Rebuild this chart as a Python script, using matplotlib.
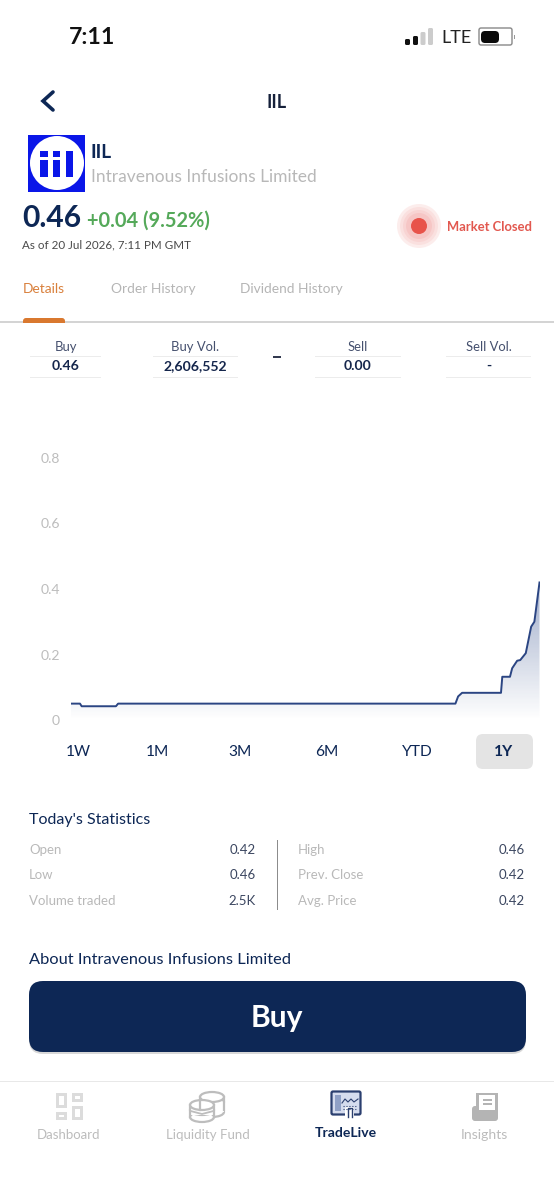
import numpy as np
import matplotlib
matplotlib.use("Agg")
import matplotlib.pyplot as plt
from matplotlib.patches import Rectangle, Circle, FancyBboxPatch, Ellipse
from matplotlib.path import Path

# ---------- data ----------
days = [0, 7, 8.3, 35, 36.7, 299.5, 301.6, 304.7, 335, 336, 342, 343.7, 347.6, 350, 354.3, 358.5, 361, 365]
prices = [0.05, 0.05, 0.042, 0.042, 0.05, 0.05, 0.072, 0.083, 0.083, 0.132, 0.132, 0.158, 0.181, 0.183, 0.204, 0.285, 0.30, 0.42]
y_ticks = [0, 0.2, 0.4, 0.6, 0.8]
y_tick_labels = ["0", "0.2", "0.4", "0.6", "0.8"]
ranges = ["1W", "1M", "3M", "6M", "YTD", "1Y"]
tabs = ["Details", "Order History", "Dividend History"]
book_heads = ["Buy", "Buy Vol.", "Sell", "Sell Vol."]
book_vals = ["0.46", "2,606,552", "0.00", "-"]
stats_left = [("Open", "0.42"), ("Low", "0.46"), ("Volume traded", "2.5K")]
stats_right = [("High", "0.46"), ("Prev. Close", "0.42"), ("Avg. Price", "0.42")]
nav = ["Dashboard", "Liquidity Fund", "TradeLive", "Insights"]

NAVY = "#0d2755"
W, H = 554, 1200
plt.rcParams["font.family"] = ["Lato", "DejaVu Sans"]

fig = plt.figure(figsize=(W / 100, H / 100), dpi=100, facecolor="white")
ui = fig.add_axes([0, 0, 1, 1])
ui.set_xlim(0, W)
ui.set_ylim(H, 0)
ui.axis("off")


def T(x, y, s, px=14, c=NAVY, ha="left", w="normal", va="center"):
    return ui.text(x, y + 1, s, fontsize=px * 0.72, color=c, ha=ha, va=va, fontweight=w)


def R(x0, y0, x1, y1, c, **k):
    ui.add_patch(Rectangle((x0, y0), x1 - x0, y1 - y0, fc=c, ec="none", **k))


def RR(x0, y0, x1, y1, r, c, **k):
    ui.add_patch(FancyBboxPatch((x0 + r, y0 + r), x1 - x0 - 2 * r, y1 - y0 - 2 * r,
                                boxstyle=f"round,pad={r}", fc=c, ec="none", **k))


# ---------- status bar ----------
T(69, 36, "7:11", 23, "#111111", w="bold")
for x0, y0, c in [(405, 39, "#111111"), (413, 36, "#111111"), (420.5, 32, "#cccccc"), (428, 28, "#cccccc")]:
    RR(x0, y0, x0 + 5, 45, 1.5, c)
T(441, 37, "LTE", 18, "#222222")
ui.add_patch(FancyBboxPatch((481, 30), 29, 13, boxstyle="round,pad=2", fc="white", ec="#888888", lw=1))
RR(481, 31, 499, 43, 4, "#0a0a0a")
R(514, 35, 515, 39, "#999999")

# ---------- header ----------
ui.plot([53, 43, 53], [92, 101, 110], color=NAVY, lw=2.6, solid_capstyle="round", solid_joinstyle="miter")
T(277, 101, "IIL", 18, "#15203a", ha="center", w="bold")

# logo
R(28, 135, 85, 192, "#0a16e8")
ui.add_patch(Circle((57, 163), 27, fc="white", ec="none"))
for x0, x1, y0 in [(40, 48, 160), (53, 60, 160), (66, 73, 151)]:
    R(x0, y0, x1, 177, "#0a16e8")
for x0, x1 in [(40, 48), (53, 60)]:
    R(x0, 151, x1, 157, "#0a16e8")

T(91, 151, "IIL", 19, NAVY, w="bold")
T(91, 176, "Intravenous Infusions Limited", 17.4, "#b8b8b8")
T(22, 217, "0.46", 30, NAVY, w="bold")
T(87, 220, "+0.04 (9.52%)", 20, "#55a95a", w="bold")
T(22, 244, "As of 20 Jul 2026, 7:11 PM GMT", 11.6, "#4a4a4a")

for r, a in [(22, .10), (19, .08), (16, .08), (13, .10)]:
    ui.add_patch(Circle((419, 226), r, fc="#e8534a", ec="none", alpha=a))
ui.add_patch(Circle((419, 226), 8, fc="#e8534a", ec="none"))
T(447, 226, "Market Closed", 13, "#e2584f", w="bold")

# ---------- tabs ----------
for x, s, c in zip([23, 111, 240], tabs, ["#d9803c", "#b5b5b5", "#b5b5b5"]):
    T(x, 288, s, 13.8, c)
R(0, 321, W, 323, "#d4d4d4")
RR(23, 318, 65, 326, 3, "#d9782f")
R(0, 323, W, 330, "white")

# ---------- order book ----------
cols = [(30, 101), (153, 238), (315, 401), (446, 531)]
for (x0, x1), h, v in zip(cols, book_heads, book_vals):
    c = (x0 + x1) / 2
    T(c, 346, h, 13, "#45506e", ha="center")
    T(c, 365, v, 14, "#15264c", ha="center", w="bold")
    R(x0, 356, x1, 357, "#ececec")
    R(x0, 377, x1, 378, "#ececec")
R(273, 356, 281, 358, "#333a50")

# ---------- chart ----------
ax = fig.add_axes([71 / W, 1 - 720 / H, (539.5 - 71) / W, (720 - 458) / H])
ax.patch.set_alpha(0)
for s in ax.spines.values():
    s.set_visible(False)
ax.set_xticks([])
ax.set_yticks(y_ticks)
ax.set_yticklabels(y_tick_labels, fontsize=14 * 0.72, color="#bdbdbd")
ax.tick_params(axis="y", length=0, pad=8)

rgba = np.zeros((256, 1, 4))
rgba[..., 0] = 0.10
rgba[..., 1] = 0.22
rgba[..., 2] = 0.50
rgba[:, 0, 3] = np.linspace(0, 0.42, 256)
top = max(prices)
img = ax.imshow(rgba, origin="lower", extent=[days[0], days[-1], 0, top], aspect="auto", interpolation="bilinear", zorder=1)
ax.set_xlim(days[0], days[-1])
ax.set_ylim(0, 0.8)
img.set_clip_path(Path(np.vstack([[days[0], 0], np.column_stack([days, prices]), [days[-1], 0], [days[0], 0]])),
                  transform=ax.transData)
ax.plot(days, prices, color="#2b4583", lw=1.4, solid_joinstyle="round", zorder=2)

# ---------- range selector ----------
RR(476, 734, 533, 769, 7, "#e4e4e4")
for x, s in zip([78, 157, 240, 327, 417, 504], ranges):
    T(x, 751, s, 15.5, NAVY, ha="center", w="bold" if s == "1Y" else "normal")

# ---------- statistics ----------
T(29, 819, "Today's Statistics", 16, NAVY)
for y, (a, b), (c, d) in zip([849, 874, 900], stats_left, stats_right):
    T(29, y, a, 13.3, "#b9b9b9")
    T(256, y, b, 13.3, "#3b4660", ha="right")
    T(298, y, c, 13.3, "#b9b9b9")
    T(525, y, d, 13.3, "#3b4660", ha="right")
R(276.5, 840, 278, 910, "#8c8c8c")

# ---------- about + button ----------
T(29, 959, "About Intravenous Infusions Limited", 16.4, NAVY)
RR(29, 983, 526, 1054, 14, "#d8d8d8")
RR(29, 981, 526, 1052, 14, NAVY)
T(277, 1017, "Buy", 30, "white", ha="center", w="bold")

# ---------- bottom nav ----------
R(0, 1080.5, W, 1082, "#e8e8e8")
c = "#dcdcdc"
R(56, 1093, 67, 1108, c); R(72, 1093, 83, 1102, c)
R(56, 1112, 67, 1120, c); R(72, 1106, 83, 1120, c)
for x0, y0, x1, y1 in [(59, 1096, 64, 1105), (75, 1096, 80, 1099), (59, 1115, 64, 1117), (75, 1109, 80, 1117)]:
    R(x0, y0, x1, y1, "white")

# coins
for cx, cy in [(212, 1102), (212, 1112)]:
    ui.add_patch(Ellipse((cx, cy), 24, 10, fc="white", ec="#bdbdbd", lw=1.6))
R(200, 1102, 224, 1112, "white")
ui.plot([200, 200], [1097, 1110], color="#bdbdbd", lw=1.6)
ui.plot([224, 224], [1097, 1110], color="#bdbdbd", lw=1.6)
ui.add_patch(Ellipse((212, 1097), 24, 10, fc="white", ec="#bdbdbd", lw=1.6))
for cy in [1117, 1110]:
    ui.add_patch(Ellipse((202, cy), 24, 10, fc="white", ec="#bdbdbd", lw=1.6))
R(190, 1105, 214, 1115, "white")
ui.plot([190, 190], [1105, 1117], color="#bdbdbd", lw=1.6)
ui.plot([214, 214], [1105, 1117], color="#bdbdbd", lw=1.6)
ui.add_patch(Ellipse((202, 1105), 24, 10, fc="white", ec="#bdbdbd", lw=1.6))
ui.plot([190.5, 202, 213.5], [1111, 1114, 1111], color="#bdbdbd", lw=1.3)

# monitor
ui.add_patch(FancyBboxPatch((333, 1093), 26, 20, boxstyle="round,pad=1.5", fc="#d5dcee", ec="#2b3f6f", lw=1.6))
R(335, 1095, 341, 1111, "#8fa0c6")
ui.plot([342, 345, 348, 351, 354, 358], [1103, 1099, 1102, 1099, 1102, 1099], color="#2b3f6f", lw=.8)
for y in [1106, 1109]:
    ui.plot([343, 357], [y, y], color="#2b3f6f", lw=.8, ls=":")
RR(345, 1107, 354, 1118, 2, "white")
ui.plot([348, 348, 352, 352], [1117, 1108, 1108, 1117], color="#2b3f6f", lw=1)

# receipt
R(476, 1093, 498, 1114, "#b4b4b4")
RR(472, 1106, 498, 1121, 3, "#b4b4b4")
R(479, 1095, 495, 1110, "white")
R(483, 1099, 492, 1101, "#b4b4b4")
R(483, 1103, 492, 1105, "#b4b4b4")

for x, px, s in zip([69, 208, 346, 484], [13.2, 13.3, 14, 14], nav):
    if s == "TradeLive":
        T(x, 1132, s, px, NAVY, ha="center", w="bold")
    else:
        T(x, 1134, s, px, "#bcbcbc", ha="center")

fig.savefig("out.png", dpi=100, facecolor="white")
